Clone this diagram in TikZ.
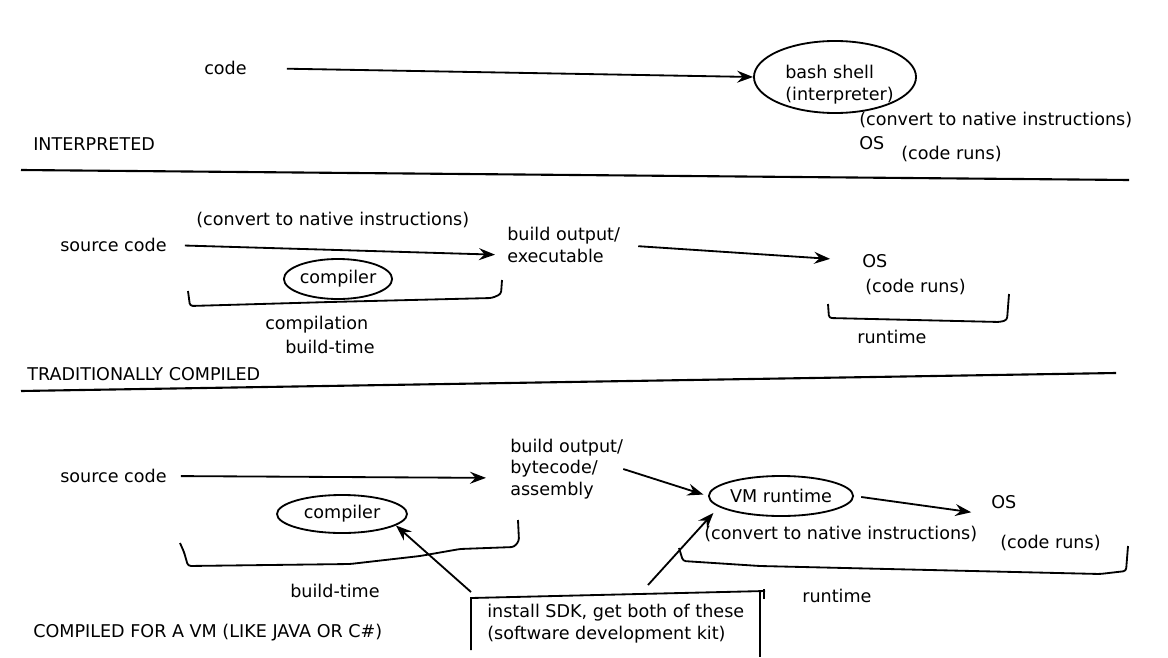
\documentclass[tikz,border=0pt]{standalone}
\usepackage{fontspec}
\setmainfont{DejaVu Sans}
\usetikzlibrary{shapes.geometric, arrows.meta, calc}

\begin{document}
\begin{tikzpicture}[x=0.025cm, y=-0.025cm,
                    every node/.style={font=\fontsize{12.5}{15.5}\selectfont},
                    label text/.style={anchor=west, inner sep=0pt, align=left},
                    bubble/.style={draw, ellipse, line width=1.3pt, inner sep=0pt},
                    flow arrow/.style={-{Stealth[length=4mm, width=3mm, inset=1.4mm]}, line width=1.3pt},
                    brace line/.style={line width=1.3pt, rounded corners=2pt},
                    divider/.style={line width=1.5pt},
                   ]
  \useasboundingbox (0,0) rectangle (1168,657);

  % interpreted
  \node[label text] (code) at (204,68) {code};
  \node[bubble, minimum width=4.05cm, minimum height=1.8cm] (bash) at (835,77) {};
  \node[label text] (bash-text) at (785,85) {bash shell\\(interpreter)};
  \node[label text] (interp-convert) at (859,120) {(convert to native instructions)};
  \node[label text] (interp-os) at (859,143) {OS};
  \node[label text] (interp-runs) at (901,154) {(code runs)};
  \node[label text] (interpreted) at (33,144) {INTERPRETED};

  \draw[flow arrow, shorten <=1cm] (code.east) -- (bash.west);
  \draw[divider] (21,170) -- (1129,180);

  % traditionally compiled
  \node[label text] (trad-convert) at (196,220) {(convert to native instructions)};
  \node[label text] (trad-source) at (60,245) {source code};
  \node[label text] (trad-output) at (507,245) {build output/\\executable};
  \node[label text] (trad-os) at (862,261) {OS};
  \node[label text] (trad-runs) at (865,287) {(code runs)};
  \node[bubble, minimum width=2.7cm, minimum height=1cm] (trad-compiler) at (338,279) {compiler};
  \node[label text] (compilation) at (265,325) {compilation};
  \node[label text] (trad-buildtime) at (285,347) {build-time};
  \node[label text] (trad-runtime) at (857,337) {runtime};
  \node[label text] (traditional) at (27,374) {TRADITIONALLY COMPILED};

  \draw[flow arrow, shorten <=0.45cm, shorten >=0.3cm] (trad-source.east) -- ($(trad-output.west)+(0,10)$);
  \draw[flow arrow, shorten <=0.45cm, shorten >=0.8cm] (trad-output.east) -- (trad-os.west);

  \draw[brace line] (188,291) -- (190,306) -- (330,302) -- (492,298) -- (501,294) -- (502,280);
  \draw[brace line] (828,304) -- (829,318) -- (1000,322) -- (1007,320) -- (1009,294);
  \draw[divider] (21,391) -- (1116,373);

  % compiled for a VM
  \node[label text] (vm-source) at (60,476) {source code};
  \node[label text] (vm-output) at (510,469) {build output/\\bytecode/\\assembly};
  \node[bubble, minimum width=3.35cm, minimum height=1cm] (vm) at (781,496) {VM runtime};
  \node[label text] (vm-os) at (991,502) {OS};
  \node[label text] (vm-convert) at (704,534) {(convert to native instructions)};
  \node[label text] (vm-runs) at (1000,543) {(code runs)};
  \node[bubble, minimum width=3.25cm, minimum height=0.95cm] (vm-compiler) at (342,514) {compiler};
  \node[label text] (vm-buildtime) at (290,591) {build-time};
  \node[label text] (vm-runtime) at (802,596) {runtime};
  \node[label text] (sdk) at (487,624) {install SDK, get both of these\\(software development kit)};
  \node[label text] (vm-title) at (33,633) {COMPILED FOR A VM (LIKE JAVA OR C\#)};

  \coordinate (sdk-left) at (471,592);
  \coordinate (sdk-right) at (648,585);

  \draw[flow arrow, shorten <=0.35cm, shorten >=0.6cm] (vm-source.east) -- ($(vm-output.west)+(0,9)$);
  \draw[flow arrow, shorten >=0.12cm] (vm-output.east) -- (vm.west);
  \draw[flow arrow, shorten <=0.18cm, shorten >=0.5cm] (vm.east) -- ($(vm-os.west)+(0,13)$);
  \draw[flow arrow] (sdk-left) -- (vm-compiler.-12);
  \draw[flow arrow, shorten >=0.2cm] (sdk-right) -- (vm.190);

  \draw[brace line] (180,543) -- (184,552) -- (188,566) -- (350,564) -- (420,556) -- (460,549) -- (514,547) -- (519,541) -- (518,520);
  \draw[brace line] (679,548) -- (683,561) -- (760,566) -- (1100,574) -- (1126,571) -- (1128,546);
  \draw[line width=1.3pt] (471,650) -- (471,598) -- (765,591);
  \draw[line width=1.3pt] (760,592) -- (760,657);
  \draw[line width=1.3pt] (764,589) -- (764,599);
\end{tikzpicture}
\end{document}
